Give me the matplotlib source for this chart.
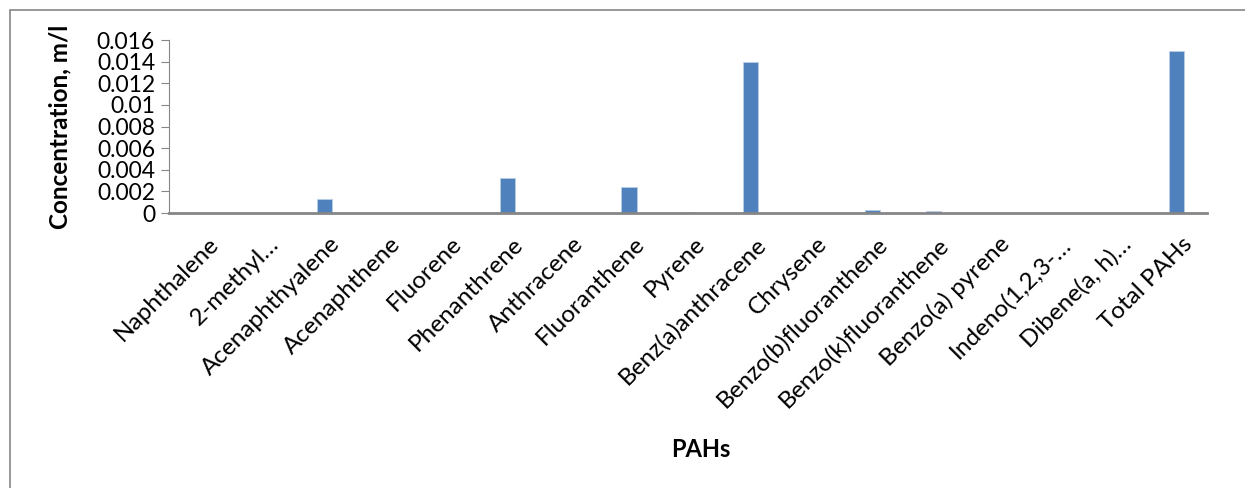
import matplotlib.pyplot as plt
import matplotlib.transforms as mtransforms
from matplotlib.patches import Rectangle

plt.rcParams['font.family'] = ['Lato', 'DejaVu Sans']

# PAH concentrations (m/l)
compounds = ['Naphthalene', '2-methyl…', 'Acenaphthyalene', 'Acenaphthene',
             'Fluorene', 'Phenanthrene', 'Anthracene', 'Fluoranthene', 'Pyrene',
             'Benz(a)anthracene', 'Chrysene', 'Benzo(b)fluoranthene',
             'Benzo(k)fluoranthene', 'Benzo(a) pyrene', 'Indeno(1,2,3-…',
             'Dibene(a, h)…', 'Total PAHs']
conc = [0, 0, 0.0013, 0, 0, 0.00325, 0, 0.0024, 0.00007, 0.014, 0,
        0.00026, 0.00018, 0, 0, 0, 0.015]
yticks = [0, 0.002, 0.004, 0.006, 0.008, 0.01, 0.012, 0.014, 0.016]
ytick_labels = ['0', '0.002', '0.004', '0.006', '0.008', '0.01', '0.012',
                '0.014', '0.016']

fig = plt.figure(figsize=(12.45, 4.88), dpi=100)
ax = fig.add_axes([0.1357, 0.5635, 0.8338, 0.3545])

x = range(len(compounds))
ax.bar(x, conc, width=0.25, color='#4f81bd', edgecolor='#b9cde5', linewidth=0.6)

ax.set_xlim(-0.56, len(compounds) - 0.5)
ax.set_ylim(0, 0.016)
ax.set_yticks(yticks)
ax.set_yticklabels(ytick_labels, fontsize=16.5)
ax.set_xticks(list(x))
ax.set_xticklabels(compounds, rotation=45, ha='right', va='center',
                   rotation_mode='anchor', fontsize=17.5)

for side in ['top', 'right']:
    ax.spines[side].set_visible(False)
ax.spines['left'].set_color('#868686')
ax.spines['bottom'].set_color('#868686')
ax.spines['bottom'].set_linewidth(2)
ax.tick_params(axis='y', color='#868686', length=6, pad=4)
ax.tick_params(axis='x', length=0, pad=20)

ax.set_ylabel('Concentration, m/l', fontsize=17.5, fontweight='bold')
ax.yaxis.set_label_coords(-0.094, 0.5)
fig.text(0.563, 0.078, 'PAHs', fontsize=17, fontweight='bold',
         ha='center', va='center')

# chart area frame
fig.patches.append(Rectangle((10 / 1245, -0.05), 1.2, 1 - 10 / 488 + 0.05,
                             transform=fig.transFigure, fill=False,
                             edgecolor='#868686', linewidth=1.2))

# nudge the slanted category labels a little right
fig.canvas.draw()
shift = mtransforms.ScaledTranslation(12 / 100, 0, fig.dpi_scale_trans)
for tick in ax.xaxis.get_major_ticks():
    tick.label1.set_transform(tick.label1.get_transform() + shift)

fig.savefig('out.png', dpi=100)
